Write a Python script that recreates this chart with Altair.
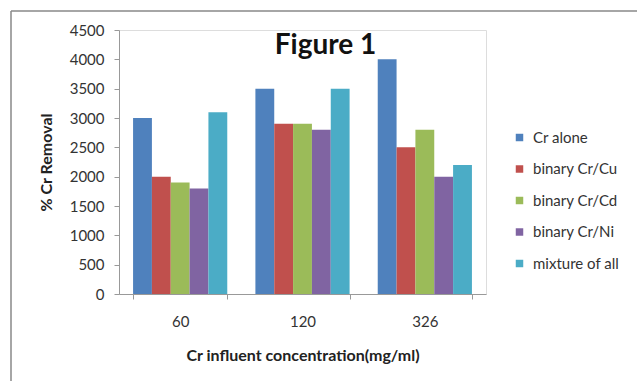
import altair as alt
import pandas as pd

concentrations = ["60", "120", "326"]
series = ["Cr alone", "binary Cr/Cu", "binary Cr/Cd", "binary Cr/Ni", "mixture of all"]
cr_alone = [3000, 3500, 4000]
binary_cu = [2000, 2900, 2500]
binary_cd = [1900, 2900, 2800]
binary_ni = [1800, 2800, 2000]
mixture = [3100, 3500, 2200]
colors = ["#4F81BD", "#C0504D", "#9BBB59", "#8064A2", "#4BACC6"]

rows = []
for s, vals in zip(series, [cr_alone, binary_cu, binary_cd, binary_ni, mixture]):
    for c, v in zip(concentrations, vals):
        rows.append({"conc": c, "series": s, "value": v})
df = pd.DataFrame(rows)

FONT = "Lato"

bars = alt.Chart(df).mark_bar().encode(
    x=alt.X("conc:N", sort=concentrations,
            scale=alt.Scale(paddingInner=0.23, paddingOuter=0.115),
            axis=alt.Axis(title="Cr influent concentration(mg/ml)", labelAngle=0,
                          tickBand="extent", tickSize=5, labelPadding=15,
                          titlePadding=18, domainColor="#999999", tickColor="#999999",
                          labelFont=FONT, labelFontSize=15, labelColor="#333333",
                          titleFont=FONT, titleFontSize=16, titleFontWeight="bold",
                          titleColor="#222222")),
    xOffset=alt.XOffset("series:N", sort=series, scale=alt.Scale(paddingInner=0, paddingOuter=0)),
    y=alt.Y("value:Q", scale=alt.Scale(domain=[0, 4500], nice=False),
            axis=alt.Axis(title="% Cr Removal", values=list(range(0, 4501, 500)), format="d",
                          grid=False, tickSize=5, labelPadding=10, titlePadding=15,
                          domainColor="#999999", tickColor="#999999",
                          labelFont=FONT, labelFontSize=15, labelColor="#333333",
                          titleFont=FONT, titleFontSize=16, titleFontWeight="bold",
                          titleColor="#222222")),
    color=alt.Color("series:N", sort=series,
                    scale=alt.Scale(domain=series, range=colors),
                    legend=alt.Legend(title=None, orient="none", legendX=393, legendY=100,
                                      symbolType="square", symbolSize=56, symbolStrokeWidth=0,
                                      labelFont=FONT, labelFontSize=15, labelColor="#333333",
                                      rowPadding=15.5, labelOffset=6)),
)

one = alt.Data(values=[{"a": 1}])
top_line = alt.Chart(one).mark_rule(color="#888888", strokeWidth=1.5, clip=False).encode(
    x=alt.value(-108), x2=alt.value(518), y=alt.value(-19))
left_line = alt.Chart(one).mark_rule(color="#888888", strokeWidth=1.5, clip=False).encode(
    x=alt.value(-108), y=alt.value(-19), y2=alt.value(351))

chart = alt.layer(bars, top_line, left_line).properties(
    width=367, height=264,
    autosize=alt.AutoSizeParams(type="none"),
    padding={"left": 119, "top": 30, "right": 151, "bottom": 87},
    title=alt.TitleParams("Figure 1", fontSize=28, fontWeight="bold", font=FONT,
                          color="#111111", anchor="middle", dx=23, dy=54),
).configure_view(stroke=None).configure(background="white")

chart.save("out.html", embed_options={"renderer": "svg", "actions": False})
